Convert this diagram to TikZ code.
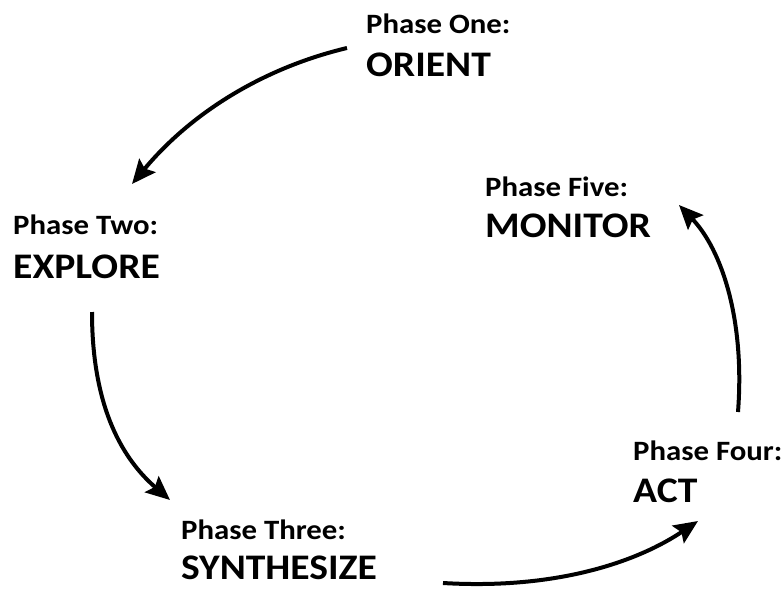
\documentclass[tikz,border=0pt]{standalone}
\usepackage{fontspec}
\setmainfont{Carlito}[FakeStretch=1.1]
\usetikzlibrary{arrows.meta}
\begin{document}
\begin{tikzpicture}[x=1pt,y=-1pt,
  phase/.style={anchor=base west,inner sep=0pt,font=\fontsize{28}{30}\selectfont\bfseries},
  title/.style={anchor=base west,inner sep=0pt,font=\fontsize{36}{40}\selectfont\bfseries},
  cycle/.style={line width=4pt,-{Stealth[length=24pt,width=21pt,inset=4pt]}}]
\useasboundingbox (0,0) rectangle (784,589);
% stage labels
\node[phase] (p1) at (366,33) {Phase One:};
\node[title] (t1) at (366,76) {ORIENT};
\node[phase] (p2) at (13,234) {Phase Two:};
\node[title] (t2) at (13,278) {EXPLORE};
\node[phase] (p3) at (181,539) {Phase Three:};
\node[title] (t3) at (181,579) {SYNTHESIZE};
\node[phase] (p4) at (633,460) {Phase Four:};
\node[title] (t4) at (633,502) {ACT};
\node[phase] (p5) at (485,196) {Phase Five:};
\node[title] (t5) at (485,237) {MONITOR};
% arrow end points
\coordinate (a1s) at (347,48);  \coordinate (a1e) at (132,184);
\coordinate (a2s) at (92,312);  \coordinate (a2e) at (170,500);
\coordinate (a3s) at (443,583); \coordinate (a3e) at (698,521);
\coordinate (a4s) at (738,412); \coordinate (a4e) at (679,205);
% cycle arrows
\draw[cycle] (a1s) .. controls (263,68) and (191,113) .. (a1e);
\draw[cycle] (a2s) .. controls (92,400) and (118,455) .. (a2e);
\draw[cycle] (a3s) .. controls (560,590) and (640,560) .. (a3e);
\draw[cycle] (a4s) .. controls (745,320) and (722,250) .. (a4e);
\end{tikzpicture}
\end{document}
